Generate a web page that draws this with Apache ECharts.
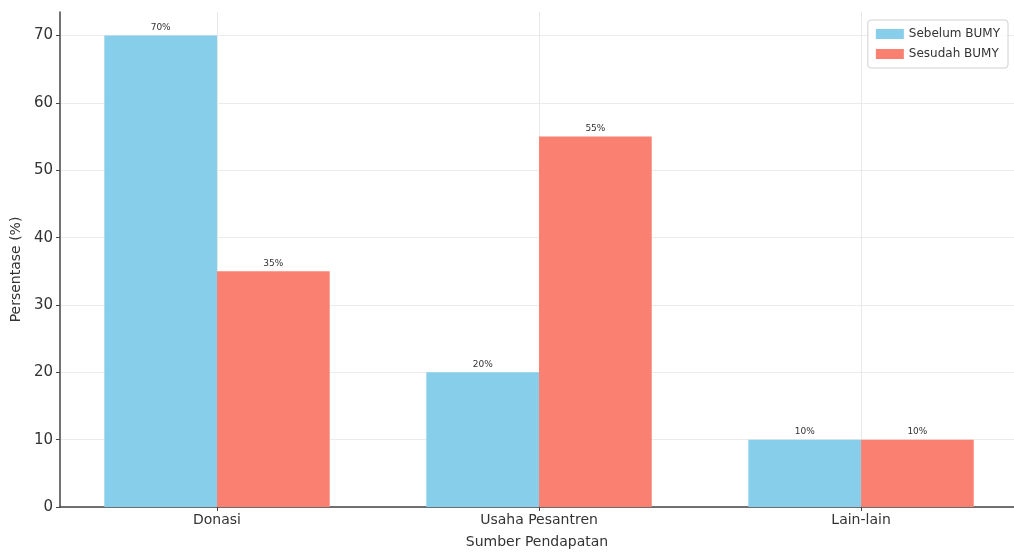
<!DOCTYPE html>
<html>
<head>
<meta charset="utf-8">
<script src="https://cdn.jsdelivr.net/npm/echarts@6/dist/echarts.min.js"></script>
<style>
  html, body { margin: 0; padding: 0; background: #fff; }
  #chart { width: 1014px; height: 554px; }
</style>
</head>
<body>
<div id="chart"></div>
<script>
const categories = ['Donasi', 'Usaha Pesantren', 'Lain-lain']
const sebelum = [70, 20, 10]
const sesudah = [35, 55, 10]
const yTicks = [0, 10, 20, 30, 40, 50, 60, 70]

const font = 'DejaVu Sans'
const barWidth = 112.7

const chart = echarts.init(document.getElementById('chart'))

function toPoints(values) {
  return values.map((v, i) => [i, v])
}

const labelOpt = {
  show: true,
  position: 'top',
  distance: 3,
  fontFamily: font,
  fontSize: 9,
  color: '#333',
  formatter: p => p.value[1] + '%'
}

chart.setOption({
  animation: false,
  textStyle: { fontFamily: font },
  legend: {
    right: 6,
    top: 20,
    orient: 'vertical',
    itemWidth: 28,
    itemHeight: 10,
    itemGap: 8,
    padding: [8, 8, 8, 8],
    borderColor: '#d0d0d0',
    borderWidth: 1,
    borderRadius: 3,
    backgroundColor: 'rgba(255,255,255,0.8)',
    icon: 'rect',
    textStyle: { fontFamily: font, fontSize: 12, color: '#333' },
    data: ['Sebelum BUMY', 'Sesudah BUMY']
  },
  grid: {
    left: 60,
    right: 0,
    top: 12,
    bottom: 47
  },
  xAxis: {
    type: 'value',
    min: -0.4876,
    max: 2.475,
    name: 'Sumber Pendapatan',
    nameLocation: 'middle',
    nameGap: 28,
    nameTextStyle: { fontFamily: font, fontSize: 14, color: '#333' },
    axisLine: { show: true, onZero: false, lineStyle: { color: '#444', width: 1.5 } },
    axisTick: { show: true, length: 4, customValues: [0, 1, 2], lineStyle: { color: '#444' } },
    axisLabel: {
      customValues: [0, 1, 2],
      margin: 6,
      fontFamily: font,
      fontSize: 14,
      color: '#333',
      formatter: v => categories[Math.round(v)]
    },
    splitLine: { show: true, lineStyle: { color: '#e8e8e8', width: 1 } }
  },
  yAxis: {
    type: 'value',
    min: 0,
    max: 73.5,
    name: 'Persentase (%)',
    nameLocation: 'middle',
    nameGap: 36,
    nameTextStyle: { fontFamily: font, fontSize: 14, color: '#333', padding: [0, 20, 0, 0] },
    axisLine: { show: true, onZero: false, lineStyle: { color: '#444', width: 1.5 } },
    axisTick: { show: true, length: 4, customValues: yTicks, lineStyle: { color: '#444' } },
    axisLabel: {
      customValues: yTicks,
      margin: 7,
      fontFamily: font,
      fontSize: 15,
      color: '#333'
    },
    splitLine: { show: true, lineStyle: { color: '#ebebeb', width: 1 } }
  },
  series: [
    {
      name: 'Sebelum BUMY',
      type: 'bar',
      barWidth: barWidth,
      barGap: '0%',
      itemStyle: { color: '#87CEEB' },
      label: labelOpt,
      data: toPoints(sebelum)
    },
    {
      name: 'Sesudah BUMY',
      type: 'bar',
      barWidth: barWidth,
      barGap: '0%',
      itemStyle: { color: '#FA8072' },
      label: labelOpt,
      data: toPoints(sesudah)
    }
  ]
})
</script>
</body>
</html>
